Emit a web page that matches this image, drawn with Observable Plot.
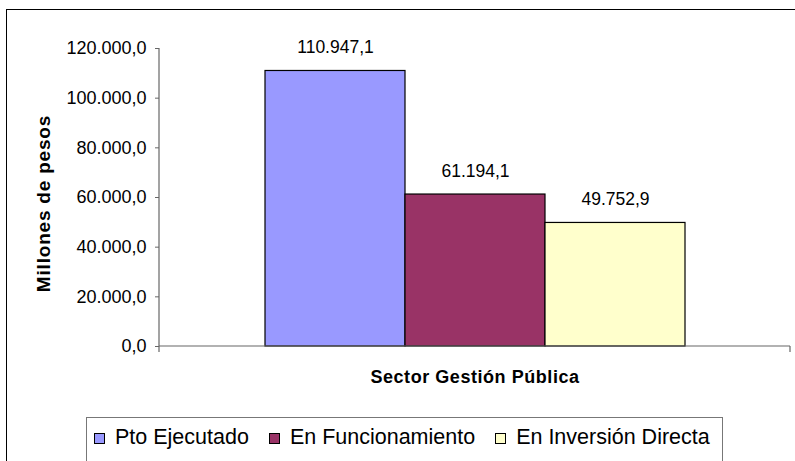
<!DOCTYPE html>
<html><head><meta charset="utf-8">
<script src="https://cdn.jsdelivr.net/npm/d3@7"></script>
<script src="https://cdn.jsdelivr.net/npm/@observablehq/plot@0.6"></script>
<style>
body{margin:0;background:#fff;font-family:Arial,"Liberation Sans",sans-serif;}
#wrap{position:relative;width:795px;height:461px;overflow:hidden;background:#fff;}
#chart{position:absolute;left:0;top:0;}
#border{position:absolute;left:6px;top:9px;width:830px;height:490px;border:1.5px solid #000;pointer-events:none;}
#legend{position:absolute;left:86px;top:417px;width:637px;height:70px;border:1px solid #777;box-sizing:border-box;padding:9px 0 0 7px;white-space:nowrap;font-size:21.5px;line-height:1;color:#000;}
#legend .item{display:inline-block;margin-right:20px;}
#legend .sw{display:inline-block;width:9px;height:9px;border:1px solid #000;margin-right:10px;vertical-align:baseline;}
</style>
</head><body>
<div id="wrap"><div id="chart"></div><div id="legend"></div><div id="border"></div></div>
<script>
const series = ["Pto Ejecutado", "En Funcionamiento", "En Inversión Directa"];
const values = [110947.1, 61194.1, 49752.9];
const colors = ["#9999FF", "#993366", "#FFFFCC"];
const category = "Sector Gestión Pública";
const yAxisTitle = "Millones de pesos";
const yTicks = [0, 20000, 40000, 60000, 80000, 100000, 120000];

const loc = d3.formatLocale({decimal: ",", thousands: ".", grouping: [3], currency: ["$", ""]});
const fmt = loc.format(",.1f");
const data = series.map((s, i) => ({serie: s, value: values[i]}));

const plot = Plot.plot({
  width: 795, height: 410,
  marginLeft: 159, marginRight: 5, marginTop: 48, marginBottom: 64,
  style: {fontFamily: "Arial, 'Liberation Sans', sans-serif", background: "transparent", color: "#000"},
  x: {type: "band", domain: series, paddingInner: 0, paddingOuter: 0.744, axis: null},
  y: {domain: [0, 120000], axis: null},
  color: {domain: series, range: colors},
  marks: [
    Plot.barY(data, {x: "serie", y: "value", fill: "serie", stroke: "#000", strokeWidth: 1.2}),
    Plot.axisY({ticks: yTicks, tickFormat: fmt, tickSize: 4, tickPadding: 9, fontSize: 18, stroke: "#666", fill: "#000", label: null}),
    Plot.text(data, {x: "serie", y: "value", text: d => fmt(d.value), lineAnchor: "bottom", dy: -18, fontSize: 17.5, fill: "#000"}),
    Plot.text([category], {frameAnchor: "bottom", textAnchor: "middle", lineAnchor: "bottom", dy: 36.7, fontSize: 18, fontWeight: "bold", fill: "#000"}),
    Plot.text([yAxisTitle], {frameAnchor: "left", textAnchor: "middle", rotate: -90, dx: -116, dy: 6, fontSize: 19, fontWeight: "bold", fill: "#000"})
  ]
});
document.getElementById("chart").appendChild(plot);

const svg = d3.select(plot);
svg.selectAll("text").each(function() {
  const t = this.textContent;
  if (t === category) d3.select(this).attr("letter-spacing", "0.55px");
  if (t === yAxisTitle) d3.select(this).attr("letter-spacing", "0.8px");
});
const xs = plot.scale("x"), ys = plot.scale("y");
const [x0, x1] = xs.range;
const yTop = ys.apply(120000), yBase = ys.apply(0);
const g = svg.append("g").attr("stroke", "#666").attr("stroke-width", 1.2);
g.append("line").attr("x1", x0).attr("x2", x0).attr("y1", yTop).attr("y2", yBase + 6);
g.append("line").attr("x1", x0).attr("x2", x1).attr("y1", yBase).attr("y2", yBase);
g.append("line").attr("x1", x1).attr("x2", x1).attr("y1", yBase).attr("y2", yBase + 6);

const legend = d3.select("#legend");
series.forEach((s, i) => {
  const it = legend.append("span").attr("class", "item");
  it.append("span").attr("class", "sw").style("background", colors[i]);
  it.append("span").text(s);
});
</script>
</body></html>
